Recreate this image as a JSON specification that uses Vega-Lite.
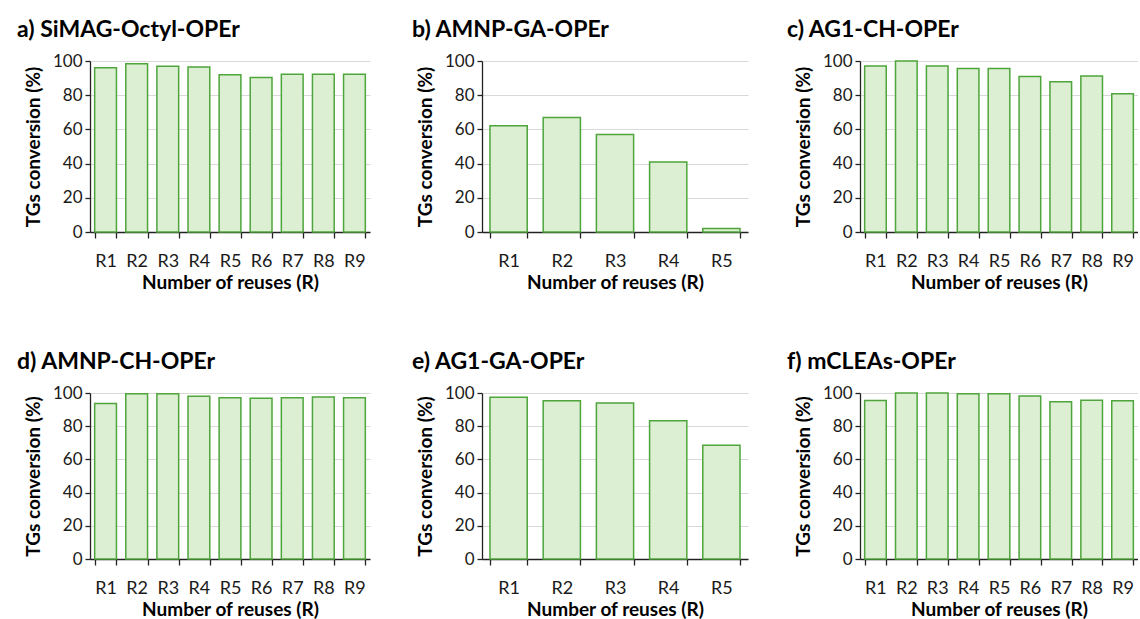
{
  "$schema": "https://vega.github.io/schema/vega-lite/v6.json",
  "padding": {"left": 17, "top": 19, "right": 0, "bottom": 0},
  "autosize": {"type": "pad"},
  "columns": 3,
  "bounds": "flush",
  "align": "each",
  "spacing": {"row": 161, "column": 112},
  "config": {
    "view": {"stroke": null},
    "title": {"anchor": "start", "frame": "group", "dx": -73, "fontSize": 23, "font": "Lato", "fontWeight": "bold", "color": "#000000", "offset": 10},
    "axis": {"labelFont": "Lato", "labelFontSize": 17, "labelColor": "#1a1a1a", "titleFont": "Lato", "titleFontSize": 19, "titleFontWeight": "bold", "titleColor": "#000000", "domainColor": "#222222", "tickColor": "#222222", "domainWidth": 1.3, "tickWidth": 1.3},
    "axisX": {"grid": false, "tickSize": 6, "labelFontSize": 18, "labelPadding": 14, "titlePadding": 3, "labelAngle": 0, "tickBand": "extent"},
    "axisY": {"grid": true, "gridColor": "#d9d9d9", "gridWidth": 1, "tickSize": 5, "labelPadding": 3, "titlePadding": 9, "values": [0, 20, 40, 60, 80, 100]},
    "scale": {"bandPaddingInner": 0.3, "bandPaddingOuter": 0.15}
  },
  "concat": [
    {
      "title": {"text": "a) SiMAG-Octyl-OPEr"},
      "width": 280, "height": 171,
      "data": {"values": [
        {"reuse": "R1", "conversion": 96.1}, {"reuse": "R2", "conversion": 98.4}, {"reuse": "R3", "conversion": 96.9},
        {"reuse": "R4", "conversion": 96.5}, {"reuse": "R5", "conversion": 92.0}, {"reuse": "R6", "conversion": 90.4},
        {"reuse": "R7", "conversion": 92.2}, {"reuse": "R8", "conversion": 92.2}, {"reuse": "R9", "conversion": 92.2}
      ]},
      "mark": {"type": "bar", "fill": "#dcefd3", "stroke": "#4ea53b", "strokeWidth": 1.5},
      "encoding": {
        "x": {"field": "reuse", "type": "nominal", "sort": null, "title": "Number of reuses (R)"},
        "y": {"field": "conversion", "type": "quantitative", "scale": {"domain": [0, 100], "nice": false}, "title": "TGs conversion (%)"}
      }
    },
    {
      "title": {"text": "b) AMNP-GA-OPEr", "dx": -70},
      "width": 266, "height": 171,
      "data": {"values": [
        {"reuse": "R1", "conversion": 62.2}, {"reuse": "R2", "conversion": 66.9}, {"reuse": "R3", "conversion": 57.0},
        {"reuse": "R4", "conversion": 41.0}, {"reuse": "R5", "conversion": 2.0}
      ]},
      "mark": {"type": "bar", "fill": "#dcefd3", "stroke": "#4ea53b", "strokeWidth": 1.5},
      "encoding": {
        "x": {"field": "reuse", "type": "nominal", "sort": null, "title": "Number of reuses (R)"},
        "y": {"field": "conversion", "type": "quantitative", "scale": {"domain": [0, 100], "nice": false}, "title": "TGs conversion (%)"}
      }
    },
    {
      "title": {"text": "c) AG1-CH-OPEr"},
      "width": 278, "height": 171,
      "data": {"values": [
        {"reuse": "R1", "conversion": 97.1}, {"reuse": "R2", "conversion": 100}, {"reuse": "R3", "conversion": 97.1},
        {"reuse": "R4", "conversion": 95.6}, {"reuse": "R5", "conversion": 95.6}, {"reuse": "R6", "conversion": 91.0},
        {"reuse": "R7", "conversion": 87.9}, {"reuse": "R8", "conversion": 91.3}, {"reuse": "R9", "conversion": 80.8}
      ]},
      "mark": {"type": "bar", "fill": "#dcefd3", "stroke": "#4ea53b", "strokeWidth": 1.5},
      "encoding": {
        "x": {"field": "reuse", "type": "nominal", "sort": null, "title": "Number of reuses (R)"},
        "y": {"field": "conversion", "type": "quantitative", "scale": {"domain": [0, 100], "nice": false}, "title": "TGs conversion (%)"}
      }
    },
    {
      "title": {"text": "d) AMNP-CH-OPEr"},
      "width": 280, "height": 166,
      "data": {"values": [
        {"reuse": "R1", "conversion": 93.7}, {"reuse": "R2", "conversion": 99.6}, {"reuse": "R3", "conversion": 99.6},
        {"reuse": "R4", "conversion": 98.0}, {"reuse": "R5", "conversion": 97.2}, {"reuse": "R6", "conversion": 96.8},
        {"reuse": "R7", "conversion": 97.2}, {"reuse": "R8", "conversion": 97.6}, {"reuse": "R9", "conversion": 97.2}
      ]},
      "mark": {"type": "bar", "fill": "#dcefd3", "stroke": "#4ea53b", "strokeWidth": 1.5},
      "encoding": {
        "x": {"field": "reuse", "type": "nominal", "sort": null, "title": "Number of reuses (R)"},
        "y": {"field": "conversion", "type": "quantitative", "scale": {"domain": [0, 100], "nice": false}, "title": "TGs conversion (%)"}
      }
    },
    {
      "title": {"text": "e) AG1-GA-OPEr", "dx": -70},
      "width": 266, "height": 166,
      "data": {"values": [
        {"reuse": "R1", "conversion": 97.4}, {"reuse": "R2", "conversion": 95.4}, {"reuse": "R3", "conversion": 94.0},
        {"reuse": "R4", "conversion": 83.3}, {"reuse": "R5", "conversion": 68.5}
      ]},
      "mark": {"type": "bar", "fill": "#dcefd3", "stroke": "#4ea53b", "strokeWidth": 1.5},
      "encoding": {
        "x": {"field": "reuse", "type": "nominal", "sort": null, "title": "Number of reuses (R)"},
        "y": {"field": "conversion", "type": "quantitative", "scale": {"domain": [0, 100], "nice": false}, "title": "TGs conversion (%)"}
      }
    },
    {
      "title": {"text": "f) mCLEAs-OPEr"},
      "width": 278, "height": 166,
      "data": {"values": [
        {"reuse": "R1", "conversion": 95.5}, {"reuse": "R2", "conversion": 100}, {"reuse": "R3", "conversion": 100},
        {"reuse": "R4", "conversion": 99.6}, {"reuse": "R5", "conversion": 99.6}, {"reuse": "R6", "conversion": 98.2},
        {"reuse": "R7", "conversion": 94.7}, {"reuse": "R8", "conversion": 95.7}, {"reuse": "R9", "conversion": 95.3}
      ]},
      "mark": {"type": "bar", "fill": "#dcefd3", "stroke": "#4ea53b", "strokeWidth": 1.5},
      "encoding": {
        "x": {"field": "reuse", "type": "nominal", "sort": null, "title": "Number of reuses (R)"},
        "y": {"field": "conversion", "type": "quantitative", "scale": {"domain": [0, 100], "nice": false}, "title": "TGs conversion (%)"}
      }
    }
  ]
}
